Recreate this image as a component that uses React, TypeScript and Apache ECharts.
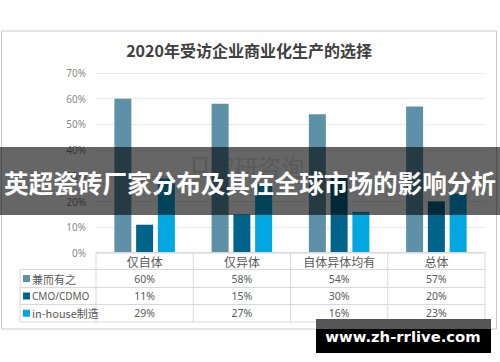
import React, { useEffect, useRef } from "react";
import * as echarts from "echarts";

const chartTitle = "2020年受访企业商业化生产的选择";
const categories = ["仅自体", "仅异体", "自体异体均有", "总体"];
const seriesNames = ["兼而有之", "CMO/CDMO", "in-house制造"];
const bothValues = [60, 58, 54, 57];
const cmoValues = [11, 15, 30, 20];
const inHouseValues = [29, 27, 16, 23];
const yMin = 0;
const yMax = 70;
const yInterval = 10;
const bannerText = "英超瓷砖厂家分布及其在全球市场的影响分析";
const siteText = "www.zh-rrlive.com";
const watermarkText = "智研咨询";
const seriesColors = ["#5E91A8", "#00648A", "#00A7E0"];

const W = 500;
const H = 362;
const gridL = 96;
const gridR = 485;
const gridT = 73;
const gridB = 253;
const tableLeft = 20;
const rowTops = [252.5, 269.5, 287.5, 304.5, 322];
const CJK = '"Noto Sans CJK SC", "Noto Sans", sans-serif';
const LAT = '"Noto Sans", "Noto Sans CJK SC", sans-serif';
const lineColor = "#d9d9d9";
const textColor = "#595959";

function txt(x: number, y: number, text: string, opts: any = {}) {
  const align = opts.align || "center";
  return {
    type: "text",
    x,
    y,
    z: opts.z ?? 10,
    silent: true,
    style: {
      text,
      fill: opts.fill || textColor,
      fontSize: opts.fontSize || 11,
      fontWeight: opts.fontWeight || "normal",
      fontFamily: opts.fontFamily || CJK,
      align,
      textAlign: align,
      verticalAlign: "middle",
      textVerticalAlign: "middle",
    },
  };
}

function hline(x1: number, x2: number, y: number) {
  return {
    type: "line",
    z: 5,
    silent: true,
    shape: { x1, y1: y, x2, y2: y },
    style: { stroke: lineColor, lineWidth: 1 },
  };
}
function vline(x: number, y1: number, y2: number) {
  return {
    type: "line",
    z: 5,
    silent: true,
    shape: { x1: x, y1, x2: x, y2 },
    style: { stroke: lineColor, lineWidth: 1 },
  };
}

export default function App() {
  const ref = useRef<HTMLDivElement>(null);
  useEffect(() => {
    if (!ref.current) return;
    const chart = echarts.init(ref.current, undefined, { renderer: "svg" });
    const seriesData = [bothValues, cmoValues, inHouseValues];
    const colW = (gridR - gridL) / categories.length;

    const graphics: any[] = [];
    // outer frame
    graphics.push({
      type: "rect",
      z: 0,
      silent: true,
      shape: { x: 1.5, y: 31, width: 495, height: 298 },
      style: { fill: "none", stroke: "#c8c8c8", lineWidth: 1 },
    });
    // title
    graphics.push(
      txt(249, 50, chartTitle, { fontSize: 16, fontWeight: "bold", fill: "#404040" })
    );
    // watermark logo + text (behind bars)
    graphics.push({
      type: "rect",
      z: 1,
      silent: true,
      shape: { x: 194, y: 158, width: 12, height: 14 },
      style: { fill: "none", stroke: "#dedede", lineWidth: 2.5 },
    });
    graphics.push(
      txt(258, 166, watermarkText, { fontSize: 23, fill: "#e0e0e0", z: 1 })
    );
    // table grid
    graphics.push(hline(gridL, gridR, rowTops[0]));
    for (let r = 1; r < rowTops.length; r++) graphics.push(hline(tableLeft, gridR, rowTops[r]));
    graphics.push(vline(tableLeft, rowTops[1], rowTops[4]));
    for (let c = 0; c <= categories.length; c++) {
      graphics.push(vline(gridL + c * colW, rowTops[0], rowTops[4]));
    }
    // rows
    seriesNames.forEach((name, i) => {
      const yc = (rowTops[i + 1] + rowTops[i + 2]) / 2;
      graphics.push({
        type: "rect",
        z: 10,
        silent: true,
        shape: { x: 23, y: yc - 3.5, width: 7, height: 7 },
        style: { fill: seriesColors[i] },
      });
      graphics.push(
        txt(32, yc, name, {
          align: "left",
          fontSize: i === 1 ? 10 : 11,
          fontFamily: i === 1 ? LAT : CJK,
        })
      );
      seriesData[i].forEach((v, c) => {
        graphics.push(
          txt(gridL + (c + 0.5) * colW, yc, v + "%", { fontSize: 10.5, fontFamily: LAT })
        );
      });
    });
    // banner
    graphics.push({
      type: "rect",
      z: 100,
      silent: true,
      shape: { x: 0, y: 147, width: W, height: 68 },
      style: { fill: "rgba(0,0,0,0.6)" },
    });
    graphics.push(
      txt(250, 182, bannerText, { fontSize: 24.6, fontWeight: "bold", fill: "#ffffff", z: 101 })
    );
    // site box
    graphics.push({
      type: "rect",
      z: 100,
      silent: true,
      shape: { x: 316, y: 319, width: 175, height: 10 },
      style: { fill: "#555555" },
    });
    graphics.push({
      type: "rect",
      z: 100,
      silent: true,
      shape: { x: 316, y: 329, width: 175, height: 24 },
      style: { fill: "#000000" },
    });
    graphics.push(
      txt(403, 336, siteText, {
        fontSize: 14.8,
        fontWeight: "bold",
        fill: "#ffffff",
        fontFamily: '"DejaVu Sans", sans-serif',
        z: 101,
      })
    );

    chart.setOption({
      animation: false,
      backgroundColor: "#ffffff",
      grid: { left: gridL, right: W - gridR, top: gridT, bottom: H - gridB, containLabel: false },
      xAxis: {
        type: "category",
        data: categories,
        axisLine: { show: false },
        axisTick: { show: false },
        axisLabel: {
          margin: 1,
          fontSize: 12,
          lineHeight: 14,
          color: textColor,
          fontFamily: CJK,
        },
      },
      yAxis: {
        type: "value",
        min: yMin,
        max: yMax,
        interval: yInterval,
        axisLine: { show: false },
        axisTick: { show: false },
        axisLabel: {
          formatter: "{value}%",
          color: "#8a8a8a",
          fontSize: 10,
          margin: 10,
          fontFamily: LAT,
        },
        splitLine: { lineStyle: { color: "#e9e9e9", width: 1 } },
      },
      series: seriesNames.map((name, i) => ({
        name,
        type: "bar",
        data: seriesData[i],
        barWidth: 17,
        barGap: "28%",
        itemStyle: { color: seriesColors[i] },
      })),
      graphic: { elements: graphics },
    });
    return () => chart.dispose();
  }, []);
  return (
    <div
      ref={ref}
      style={{ position: "fixed", left: 0, top: 0, width: W, height: H, background: "#fff" }}
    />
  );
}
